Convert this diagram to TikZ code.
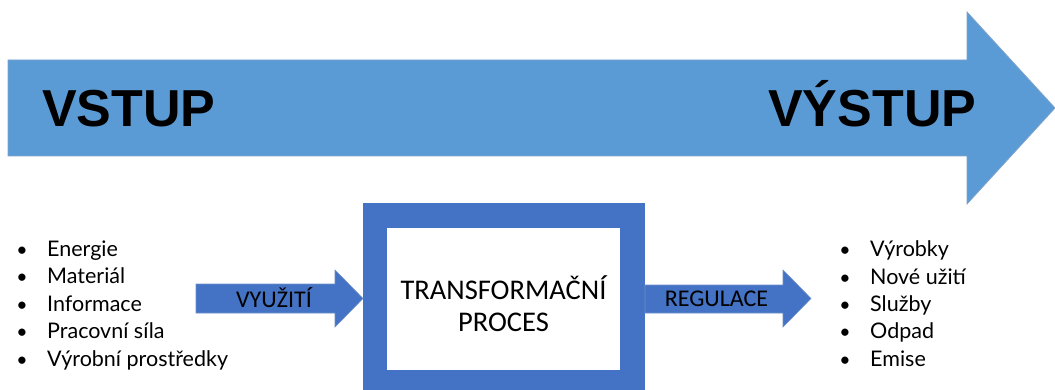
\documentclass[tikz,border=0pt]{standalone}
\usepackage{fontspec}
\setmainfont{Carlito}
\newfontfamily\headfont{Liberation Sans}
\newfontfamily\listfont{Lato}
\definecolor{flowblue}{HTML}{5B9BD5}
\definecolor{flowedge}{HTML}{7FA3CB}
\definecolor{boxblue}{HTML}{4472C4}
\definecolor{boxedge}{HTML}{6E8FCB}

\begin{document}
\begin{tikzpicture}[x=1pt,y=-1pt,
  bigflow/.style={fill=flowblue,draw=flowedge,line width=0.8pt},
  smallflow/.style={fill=boxblue,draw=boxedge,line width=0.6pt},
  heading/.style={font=\headfont\bfseries\fontsize{52}{60}\selectfont,inner sep=0pt,anchor=base west},
  flowlabel/.style={font=\fontsize{24}{28}\selectfont,inner sep=0pt,anchor=base},
  boxlabel/.style={font=\fontsize{28.5}{32}\selectfont,inner sep=0pt,anchor=base},
  listitem/.style={font=\listfont\fontsize{21.5}{26}\selectfont,inner sep=0pt,anchor=base west},
  bulletmark/.style={font=\listfont\fontsize{19.5}{24}\selectfont,inner sep=0pt,anchor=base}]
\useasboundingbox (0,0) rectangle (1055,390);

% main flow arrow
\draw[bigflow] (8,60) -- (967,60) -- (967,12) -- (1055,108) -- (967,204)
  -- (967,156) -- (8,156) -- cycle;
\node[heading] (vstup) at (42,127) {VSTUP};
\node[heading] (vystup) at (768,127) {VÝSTUP};

% transformation box
\fill[boxblue] (363,203) rectangle (645,390);
\fill[white] (387,228) rectangle (620,370);
\node[boxlabel] (t1) at (503.5,299) {TRANSFORMAČNÍ};
\node[boxlabel] (t2) at (503.5,331) {PROCES};

% input arrow
\draw[smallflow] (196,284) -- (335,284) -- (335,270) -- (363,298.5) -- (335,327)
  -- (335,313) -- (196,313) -- cycle;
\node[flowlabel] (vyuziti) at (274,307) {VYUŽITÍ};

% output arrow
\draw[smallflow] (645,285) -- (783,285) -- (783,270) -- (811,298.5) -- (783,327)
  -- (783,313) -- (645,313) -- cycle;
\node[flowlabel] (regulace) at (716.5,306) {REGULACE};

% input list
\foreach \txt [count=\i] in {Energie,Materiál,Informace,Pracovní síla,Výrobní prostředky}{
  \node[bulletmark] (inb\i) at (22,{256+27.5*(\i-1)}) {\textbullet};
  \node[listitem] (in\i) at (47,{256+27.5*(\i-1)}) {\txt};
}

% output list
\foreach \txt [count=\i] in {Výrobky,Nové užití,Služby,Odpad,Emise}{
  \node[bulletmark] (outb\i) at (845,{257+27.3*(\i-1)}) {\textbullet};
  \node[listitem] (out\i) at (870,{257+27.3*(\i-1)}) {\txt};
}
\end{tikzpicture}
\end{document}
